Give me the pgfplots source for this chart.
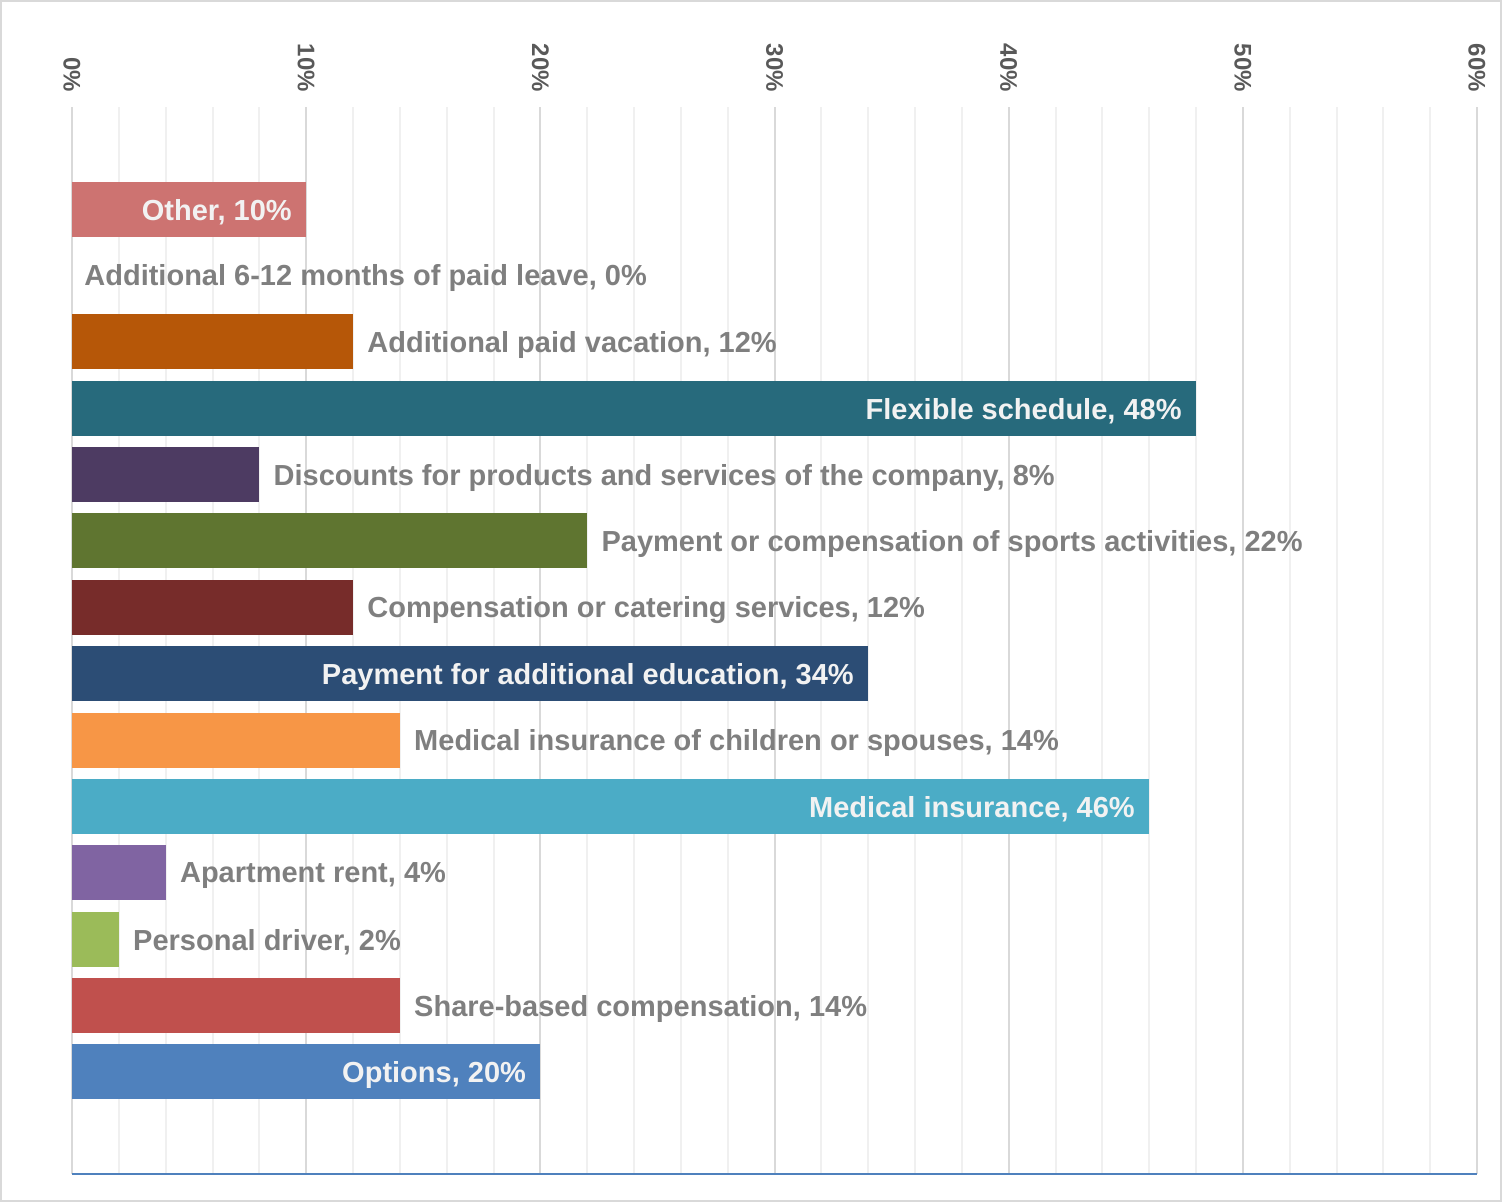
\documentclass[border=0pt]{standalone}
\usepackage{fontspec}
\setmainfont{Liberation Sans}
\usepackage{pgfplots}
\pgfplotsset{compat=1.18}
\definecolor{frame}{HTML}{D9D9D9}
\definecolor{gridmaj}{HTML}{D9D9D9}
\definecolor{gridmin}{HTML}{F0F0F0}
\definecolor{axisblue}{HTML}{4F81BD}
\definecolor{tickgray}{HTML}{595959}
\definecolor{labgray}{HTML}{7F7F7F}
\definecolor{labwhite}{HTML}{F2F2F2}
\definecolor{cOptions}{HTML}{4F81BD}
\definecolor{cShare}{HTML}{C0504D}
\definecolor{cDriver}{HTML}{9BBB59}
\definecolor{cRent}{HTML}{8064A2}
\definecolor{cMed}{HTML}{4BACC6}
\definecolor{cMedKids}{HTML}{F79646}
\definecolor{cEdu}{HTML}{2C4D75}
\definecolor{cCater}{HTML}{772C2A}
\definecolor{cSport}{HTML}{5F7530}
\definecolor{cDisc}{HTML}{4D3B62}
\definecolor{cFlex}{HTML}{276A7C}
\definecolor{cVac}{HTML}{B65708}
\definecolor{cLeave}{HTML}{729ACA}
\definecolor{cOther}{HTML}{CD7371}
\pgfplotsset{
  inlab/.style={every node near coord/.append style={anchor=east, xshift=-7pt, yshift=-1.5pt, text=labwhite}},
  outlab/.style={every node near coord/.append style={anchor=west, xshift=7pt, yshift=-1.5pt, text=labgray}},
}
\begin{document}
\begin{tikzpicture}
\useasboundingbox (-36pt,-14pt) rectangle (715pt,587pt);
\draw[color=frame, line width=1pt] (-35.5pt,-13.5pt) rectangle (714.5pt,586.5pt);
\begin{axis}[
  at={(0,0)}, anchor=south west,
  scale only axis, width=702.5pt, height=533.5pt,
  xbar, bar shift=0pt, bar width=27.5pt,
  xmin=0, xmax=60, ymin=-1.537, ymax=14.537,
  xtick={0,10,20,30,40,50,60},
  xticklabels={0\%,10\%,20\%,30\%,40\%,50\%,60\%},
  minor x tick num=4,
  xticklabel pos=upper,
  ytick=\empty,
  major tick length=0pt, minor tick length=0pt,
  xmajorgrids, xminorgrids,
  major grid style={color=gridmaj, line width=1pt},
  minor grid style={color=gridmin, line width=1pt},
  axis line style={draw=none},
  xticklabel style={rotate=-90, anchor=east, font=\fontsize{12}{14}\selectfont\bfseries, text=tickgray},
  xticklabel shift=4pt,
  /pgf/number format/assume math mode=true,
  clip=false,
  every axis plot/.append style={draw=none},
  every node near coord/.append style={font=\fontsize{14.5}{17}\selectfont\bfseries, inner sep=0pt},
]
\addplot[fill=cOptions, nodes near coords={Options, 20\%}, inlab] coordinates {(20,0)};
\addplot[fill=cShare, nodes near coords={Share-based compensation, 14\%}, outlab] coordinates {(14,1)};
\addplot[fill=cDriver, nodes near coords={Personal driver, 2\%}, outlab] coordinates {(2,2)};
\addplot[fill=cRent, nodes near coords={Apartment rent, 4\%}, outlab] coordinates {(4,3)};
\addplot[fill=cMed, nodes near coords={Medical insurance, 46\%}, inlab] coordinates {(46,4)};
\addplot[fill=cMedKids, nodes near coords={Medical insurance of children or spouses, 14\%}, outlab] coordinates {(14,5)};
\addplot[fill=cEdu, nodes near coords={Payment for additional education, 34\%}, inlab] coordinates {(34,6)};
\addplot[fill=cCater, nodes near coords={Compensation or catering services, 12\%}, outlab] coordinates {(12,7)};
\addplot[fill=cSport, nodes near coords={Payment or compensation of sports activities, 22\%}, outlab] coordinates {(22,8)};
\addplot[fill=cDisc, nodes near coords={Discounts for products and services of the company, 8\%}, outlab] coordinates {(8,9)};
\addplot[fill=cFlex, nodes near coords={Flexible schedule, 48\%}, inlab] coordinates {(48,10)};
\addplot[fill=cVac, nodes near coords={Additional paid vacation, 12\%}, outlab] coordinates {(12,11)};
\addplot[fill=cLeave, fill opacity=0, nodes near coords={Additional 6-12 months of paid leave, 0\%}, outlab, every node near coord/.append style={xshift=-1pt, fill opacity=1, text opacity=1}] coordinates {(0,12)};
\addplot[fill=cOther, nodes near coords={Other, 10\%}, inlab] coordinates {(10,13)};
\draw[axisblue, line width=1pt] (rel axis cs:0,0) -- (rel axis cs:1,0);
\end{axis}
\end{tikzpicture}
\end{document}
